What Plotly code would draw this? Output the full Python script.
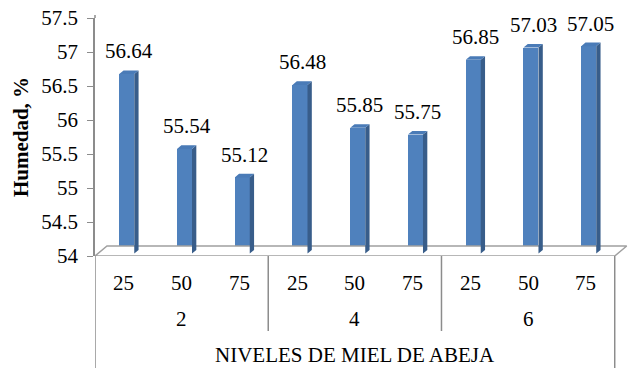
import plotly.graph_objects as go

# Moisture (%) by honey level (2, 4, 6) and sub-level (25, 50, 75)
group_labels = ["2", "4", "6"]
sub_labels = ["25", "50", "75"]
humedad = [56.64, 55.54, 55.12, 56.48, 55.85, 55.75, 56.85, 57.03, 57.05]
y_ticks = [54, 54.5, 55, 55.5, 56, 56.5, 57, 57.5]
y_tick_text = ["54", "54.5", "55", "55.5", "56", "56.5", "57", "57.5"]

Y_MIN, Y_MAX = 54, 57.5
N = len(humedad)

# pseudo-3D geometry (in axis units)
FLOOR_DX, FLOOR_DY = 0.2076, 0.147      # depth of the floor
FRONT = 0.24                             # bar front plane, fraction of floor depth
BAR_DEPTH = 0.36                         # bar depth, fraction of floor depth
BAR_W = 0.26

fdx, fdy = FRONT * FLOOR_DX, FRONT * FLOOR_DY
sdx, sdy = BAR_DEPTH * FLOOR_DX, BAR_DEPTH * FLOOR_DY

FRONT_C = "#4F81BD"
SIDE_C = "#385D8A"
TOP_C = "#4A7BB7"
GRID_C = "#A0A0A0"
FONT = "'Liberation Serif', 'Times New Roman', Times, serif"
FS = 21

centers = [i + 0.5 + fdx for i in range(N)]
base = Y_MIN + fdy

fig = go.Figure()

# floor of the 3D plot area
fig.add_trace(go.Scatter(
    x=[0, N, N + FLOOR_DX, FLOOR_DX, 0],
    y=[Y_MIN, Y_MIN, Y_MIN + FLOOR_DY, Y_MIN + FLOOR_DY, Y_MIN],
    mode="lines", fill="toself", fillcolor="white",
    line=dict(color=GRID_C, width=1.5), hoverinfo="skip", showlegend=False))

# front faces
fig.add_trace(go.Bar(
    x=centers, y=[v - Y_MIN for v in humedad], base=base, width=BAR_W,
    marker=dict(color=FRONT_C, line=dict(width=0)), showlegend=False))

# side faces and top caps
side_x, side_y, top_x, top_y = [], [], [], []
for c, v in zip(centers, humedad):
    xl, xr = c - BAR_W / 2, c + BAR_W / 2
    top = v + fdy
    side_x += [xr, xr + sdx, xr + sdx, xr, xr, None]
    side_y += [base, base + sdy, top + sdy, top, base, None]
    top_x += [xl, xr, xr + sdx, xl + sdx, xl, None]
    top_y += [top, top, top + sdy, top + sdy, top, None]

fig.add_trace(go.Scatter(x=side_x, y=side_y, mode="lines", fill="toself",
                         fillcolor=SIDE_C, line=dict(width=0, color=SIDE_C),
                         hoverinfo="skip", showlegend=False))
fig.add_trace(go.Scatter(x=top_x, y=top_y, mode="lines", fill="toself",
                         fillcolor=TOP_C, line=dict(width=0, color=TOP_C),
                         hoverinfo="skip", showlegend=False))

annotations = []
# value labels above each bar
for c, v in zip(centers, humedad):
    annotations.append(dict(x=c + sdx / 2, y=v + fdy + sdy, xref="x", yref="y",
                            text=f"{v:.2f}", showarrow=False, yanchor="middle",
                            yshift=19, font=dict(family=FONT, size=FS, color="black")))

# two-level category labels
for i in range(N):
    annotations.append(dict(x=i + 0.5, y=283, xref="x", yref="paper",
                            text=sub_labels[i % 3], showarrow=False))
for g, lab in enumerate(group_labels):
    annotations.append(dict(x=3 * g + 1.5, y=319, xref="x", yref="paper",
                            text=lab, showarrow=False))
annotations.append(dict(x=N / 2, y=355, xref="x", yref="paper",
                        text="NIVELES DE MIEL DE ABEJA", showarrow=False))

# convert pixel rows of category labels to paper coordinates
H, T, B = 368, 18, 112
plot_h = H - T - B
for a in annotations:
    if a.get("yref") == "paper":
        a["y"] = (H - B - a["y"]) / plot_h
        a["yanchor"] = "middle"
        a["font"] = dict(family=FONT, size=FS, color="black")

# category divider lines below the axis
shapes = []
for xd in [0, 3, 6, 9]:
    y_end = -(368 - 256) / plot_h if xd in (0, 9) else -(331 - 256) / plot_h
    shapes.append(dict(type="line", xref="x", yref="paper", x0=xd, x1=xd,
                       y0=0, y1=y_end, line=dict(color="#8C8C8C", width=1.5)))
# axis line continues slightly above the top tick
shapes.append(dict(type="line", xref="paper", yref="paper", x0=0, x1=0,
                   y0=1, y1=1 + 3 / plot_h, line=dict(color="#8C8C8C", width=1.5)))

fig.update_layout(
    width=628, height=368,
    margin=dict(l=95, r=0, t=T, b=B),
    paper_bgcolor="white", plot_bgcolor="white",
    bargap=0, barmode="overlay",
    font=dict(family=FONT, size=FS, color="black"),
    xaxis=dict(range=[0, 9.23], showgrid=False, zeroline=False,
               showticklabels=False, ticks="", showline=False, fixedrange=True),
    yaxis=dict(range=[Y_MIN, Y_MAX], tickvals=y_ticks, ticktext=y_tick_text,
               showgrid=False, zeroline=False, showline=True,
               linecolor="#8C8C8C", linewidth=1.5, ticks="outside", ticklen=6,
               tickcolor="#8C8C8C", tickwidth=1, ticklabelstandoff=5,
               tickfont=dict(family=FONT, size=FS, color="black"),
               title=dict(text="<b>Humedad, %</b>", standoff=7,
                          font=dict(family=FONT, size=21, color="black"))),
    annotations=annotations, shapes=shapes,
)

fig.write_html("out.html")
